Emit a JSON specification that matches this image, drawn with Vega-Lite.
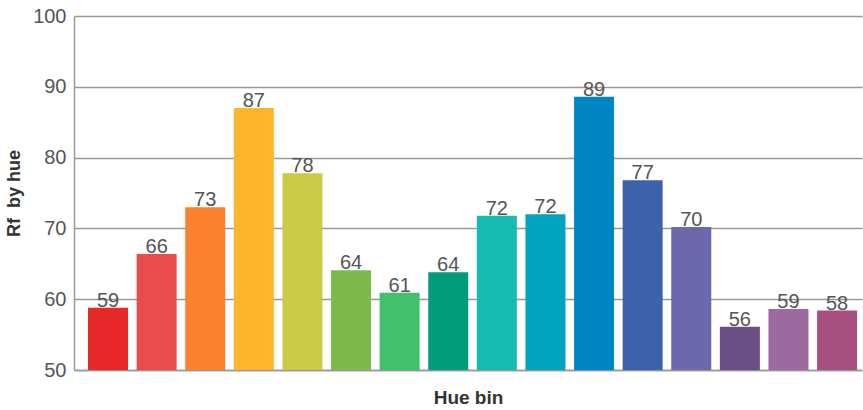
{
  "$schema": "https://vega.github.io/schema/vega-lite/v6.json",
  "width": 788,
  "height": 354,
  "autosize": {"type": "none"},
  "padding": {"left": 74, "top": 16, "right": 1, "bottom": 40},
  "background": "white",
  "config": {"view": {"stroke": null}},
  "data": {"values": [
    {"bin": 1, "rf": 58.8, "color": "#E62828"},
    {"bin": 2, "rf": 66.4, "color": "#E74B4B"},
    {"bin": 3, "rf": 73.0, "color": "#FB812E"},
    {"bin": 4, "rf": 87.0, "color": "#FFB529"},
    {"bin": 5, "rf": 77.8, "color": "#CBCA46"},
    {"bin": 6, "rf": 64.1, "color": "#7EB94C"},
    {"bin": 7, "rf": 60.9, "color": "#41C06D"},
    {"bin": 8, "rf": 63.8, "color": "#009C7C"},
    {"bin": 9, "rf": 71.8, "color": "#16BCB0"},
    {"bin": 10, "rf": 72.0, "color": "#00A4BF"},
    {"bin": 11, "rf": 88.6, "color": "#0085C3"},
    {"bin": 12, "rf": 76.8, "color": "#3B62AA"},
    {"bin": 13, "rf": 70.2, "color": "#6D68AB"},
    {"bin": 14, "rf": 56.1, "color": "#6A4E85"},
    {"bin": 15, "rf": 58.6, "color": "#9D69A1"},
    {"bin": 16, "rf": 58.4, "color": "#A74F81"}
  ]},
  "encoding": {
    "x": {"field": "bin", "type": "ordinal", "scale": {"paddingInner": 0.177, "paddingOuter": 0.195, "align": 0.74},
      "axis": {"title": "Hue bin", "labels": false, "ticks": false, "domain": true, "domainColor": "#999999", "domainWidth": 1.5,
        "titleFont": "Liberation Sans", "titleFontSize": 19, "titleFontWeight": "bold", "titleColor": "#333333", "titlePadding": 18}},
    "y": {"field": "rf", "type": "quantitative", "scale": {"domain": [50, 100], "clamp": true, "zero": false},
      "axis": {"title": "Rf\u00a0 by hue", "values": [50, 60, 70, 80, 90, 100], "ticks": false, "grid": true, "gridColor": "#999999", "gridWidth": 1.5,
        "domain": true, "domainColor": "#999999", "domainWidth": 1.5,
        "labelFont": "Liberation Sans", "labelFontSize": 20, "labelColor": "#555555", "labelPadding": 8,
        "titleFont": "Liberation Sans", "titleFontSize": 18, "titleFontWeight": "bold", "titleColor": "#333333", "titlePadding": 9}}
  },
  "layer": [
    {"mark": {"type": "bar"}, "encoding": {"color": {"field": "color", "type": "nominal", "scale": null}}},
    {"mark": {"type": "text", "baseline": "bottom", "dy": 3, "font": "Liberation Sans", "fontSize": 20, "color": "#555555"},
      "encoding": {"text": {"field": "rf", "type": "quantitative", "format": ".0f"}}}
  ]
}
